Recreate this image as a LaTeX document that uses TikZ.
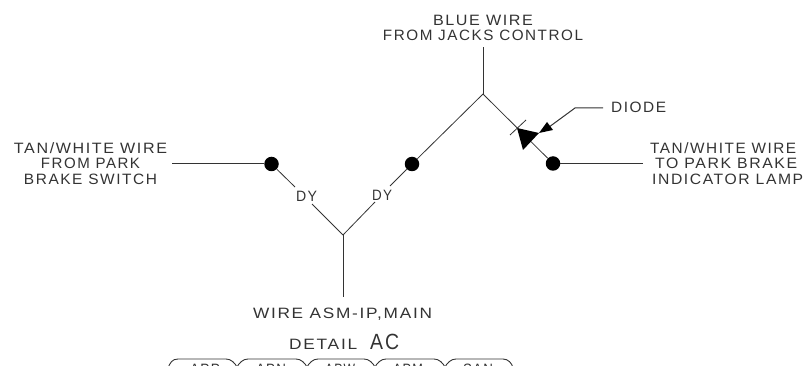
\documentclass[tikz,border=0pt]{standalone}
\usepackage{graphicx}
\usepackage{fontspec}
\setmainfont{Liberation Sans}
\newfontfamily\cadfont[LetterSpace=10]{Liberation Sans}
\definecolor{ink}{HTML}{333333}
\newcommand{\fitw}[2]{\resizebox{#1pt}{\height}{#2}}
\tikzset{
  lbl/.style={inner sep=0pt,text=ink,font=\fontsize{15}{15.5}\selectfont\cadfont,align=center},
  wire/.style={draw=ink,line width=1pt},
  thinwire/.style={draw=ink,line width=0.8pt},
  dot/.style={circle,fill=black,inner sep=0pt,minimum size=14.5pt},
  tagbox/.style={draw=ink,line width=0.9pt}
}
\begin{document}
\begin{tikzpicture}[x=1pt,y=-1pt]
\useasboundingbox (0,0) rectangle (804,366);
% text
\node[lbl] (blue) at (483,28) {\fitw{100}{BLUE WIRE}\\\fitw{200}{FROM JACKS CONTROL}};
\node[lbl] (tanl) at (90.5,163.5) {\fitw{153}{TAN/WHITE WIRE}\\\fitw{99}{FROM PARK}\\\fitw{133}{BRAKE SWITCH}};
\node[lbl,align=left,anchor=west] (tanr) at (650,163.5) {\fitw{146}{TAN/WHITE WIRE}\\\hspace*{5pt}\fitw{142}{TO PARK BRAKE}\\\hspace*{2pt}\fitw{151}{INDICATOR LAMP}};
\node[lbl,anchor=west] (diode) at (611,107.5) {\fitw{55}{DIODE}};
\node[lbl] (asm) at (342.5,314) {\fitw{179}{WIRE ASM-IP,MAIN}};
\node[lbl,anchor=base west] (detail) at (289,349) {\fitw{68}{DETAIL}};
\node[lbl,anchor=base west] (ac) at (370,349) {\fontsize{22}{22}\selectfont\fitw{29}{AC}};
\node[lbl] (dy1) at (306.5,196.5) {\fitw{21}{DY}};
\node[lbl] (dy2) at (382,195) {\fitw{20}{DY}};
% points
\node[dot] (d1) at (271.5,164) {};
\node[dot] (d2) at (412,164) {};
\node[dot] (d3) at (553,163.5) {};
\coordinate (j1) at (343,235);
\coordinate (j2) at (483,94);
\coordinate (top) at (483,47);
\coordinate (bot) at (343,297);
\coordinate (lend) at (172,164);
\coordinate (rend) at (643,163.5);
% wires
\draw[wire] (lend) -- (d1);
\draw[wire] (d3) -- (rend);
\draw[thinwire] (d1) -- (295,187);
\draw[thinwire] (312,204) -- (j1);
\draw[thinwire] (j1) -- (375,202);
\draw[thinwire] (390,186) -- (d2);
\draw[thinwire] (d2) -- (j2);
\draw[wire] (j2) -- (top);
\draw[wire] (j1) -- (bot);
\draw[thinwire] (j2) -- (d3);
% diode
\fill[black] (517,128) -- (539,133) -- (523,150) -- cycle;
\draw[thinwire] (510,135) -- (526,120);
\coordinate (leadend) at (603,108);
\coordinate (leadknee) at (575,108);
\draw[wire] (leadend) -- (leadknee) -- (545,130);
\fill[black] (539,133) -- (547,122) -- (553,130) -- cycle;
% tags
\clip (0,0) rectangle (804,366);
\draw[tagbox] (168,368) .. controls (170,363) and (172,359) .. (178,359) -- (226,359)
  .. controls (231,359) and (235,363) .. (237,367)
  .. controls (239,363) and (243,359) .. (248,359) -- (296,359)
  .. controls (301,359) and (305,363) .. (307,367)
  .. controls (309,363) and (313,359) .. (318,359) -- (364,359)
  .. controls (369,359) and (373,363) .. (375,367)
  .. controls (377,363) and (381,359) .. (386,359) -- (434,359)
  .. controls (439,359) and (443,363) .. (445,367)
  .. controls (447,363) and (451,359) .. (456,359) -- (503,359)
  .. controls (508,359) and (512,363) .. (513,368);
\node[lbl,anchor=base] (t1) at (205,374) {\fitw{30}{APP}};
\node[lbl,anchor=base] (t2) at (271,374) {\fitw{30}{APN}};
\node[lbl,anchor=base] (t3) at (340,374) {\fitw{30}{APW}};
\node[lbl,anchor=base] (t4) at (408,374) {\fitw{30}{APM}};
\node[lbl,anchor=base] (t5) at (478,374) {\fitw{30}{SAN}};
\end{tikzpicture}
\end{document}
